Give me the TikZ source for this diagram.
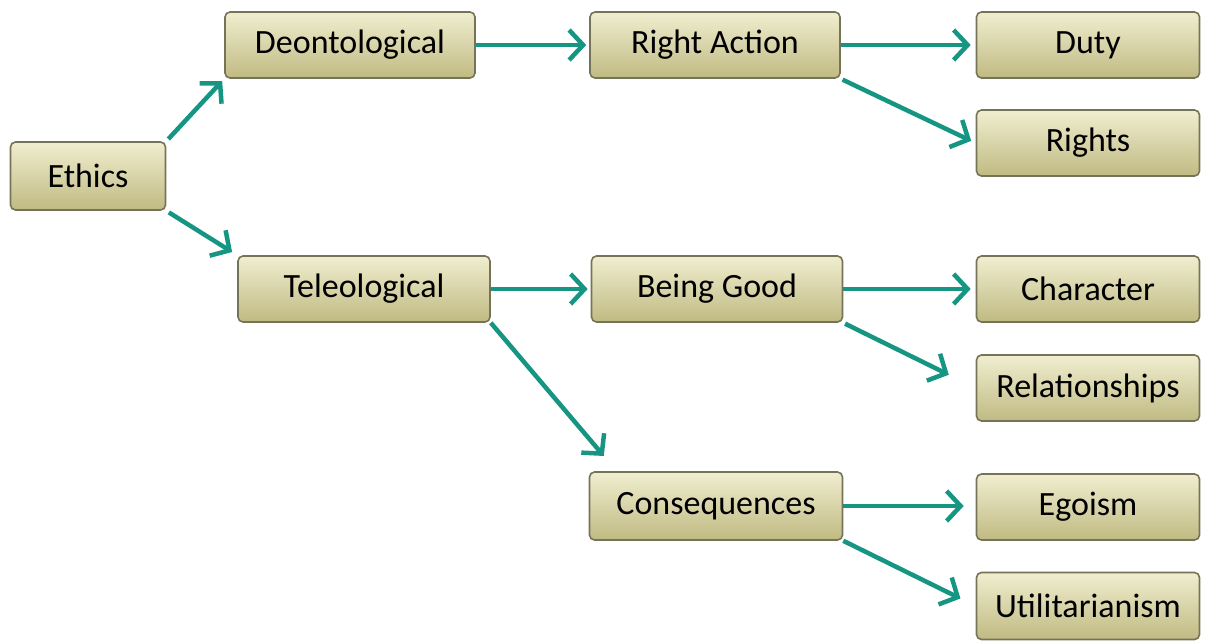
\documentclass[tikz,border=0pt]{standalone}
\usepackage{fontspec}
\setmainfont{Carlito}
\usepackage{tikz}
\usetikzlibrary{arrows.meta}
\definecolor{boxtop}{RGB}{240,238,208}
\definecolor{boxmid}{RGB}{226,223,180}
\definecolor{boxbot}{RGB}{192,186,130}
\definecolor{boxline}{RGB}{118,116,88}
\definecolor{teal}{RGB}{22,150,130}
\tikzset{
  box/.style={draw=boxline,line width=1.6pt,rounded corners=5pt,top color=boxtop,
    middle color=boxmid,bottom color=boxbot,minimum height=66pt,inner sep=0pt,
    font=\fontsize{34}{38}\selectfont},
  arr/.style={draw=teal,line width=4.5pt,-{Straight Barb[length=14pt,width=30pt,line width=4.5pt]}}
}

\begin{document}
\begin{tikzpicture}[x=1pt,y=-1pt]
  \useasboundingbox (0,0) rectangle (1211,641);
  \node (1) [box,minimum width=155pt,minimum height=68pt] at (88,176) {Ethics};
  \node (2) [box,minimum width=250pt] at (350,45) {Deontological};
  \node (3) [box,minimum width=252pt] at (364,289) {Teleological};
  \node (4) [box,minimum width=250pt] at (715,45) {Right Action};
  \node (5) [box,minimum width=251pt] at (717,289) {Being Good};
  \node (6) [box,minimum width=253pt,minimum height=68pt] at (716,506) {Consequences};
  \node (7) [box,minimum width=223pt] at (1088,45) {Duty};
  \node (8) [box,minimum width=223pt] at (1088,143) {Rights};
  \node (9) [box,minimum width=223pt] at (1088,289) {Character};
  \node (10) [box,minimum width=223pt] at (1088,388) {Relationships};
  \node (11) [box,minimum width=223pt] at (1088,507) {Egoism};
  \node (12) [box,minimum width=223pt,minimum height=67pt] at (1088,606) {Utilitarianism};
  \draw[arr,shorten <=3pt,shorten >=3pt] (1.north east) -- (2.south west);
  \draw[arr,shorten <=3pt,shorten >=6pt] (1.south east) -- (3.north west);
  \draw[arr,shorten >=3pt] (2.east) -- (4.west);
  \draw[arr,shorten >=5pt] (4.east) -- (7.west);
  \draw[arr,shorten <=2pt,shorten >=5pt] (4.south east) -- (8.west);
  \draw[arr,shorten >=3pt] (3.east) -- (5.west);
  \draw[arr,shorten >=20pt] (3.south east) -- ([xshift=28pt]6.north west);
  \draw[arr,shorten >=5pt] (5.east) -- (9.west);
  \draw[arr,shorten <=2pt,shorten >=30pt] (5.south east) -- (10.west);
  \draw[arr,shorten >=12pt] (6.east) -- (6.east -| 11.west);
  \draw[arr,shorten >=17pt] (6.south east) -- (12.west);
\end{tikzpicture}
\end{document}
